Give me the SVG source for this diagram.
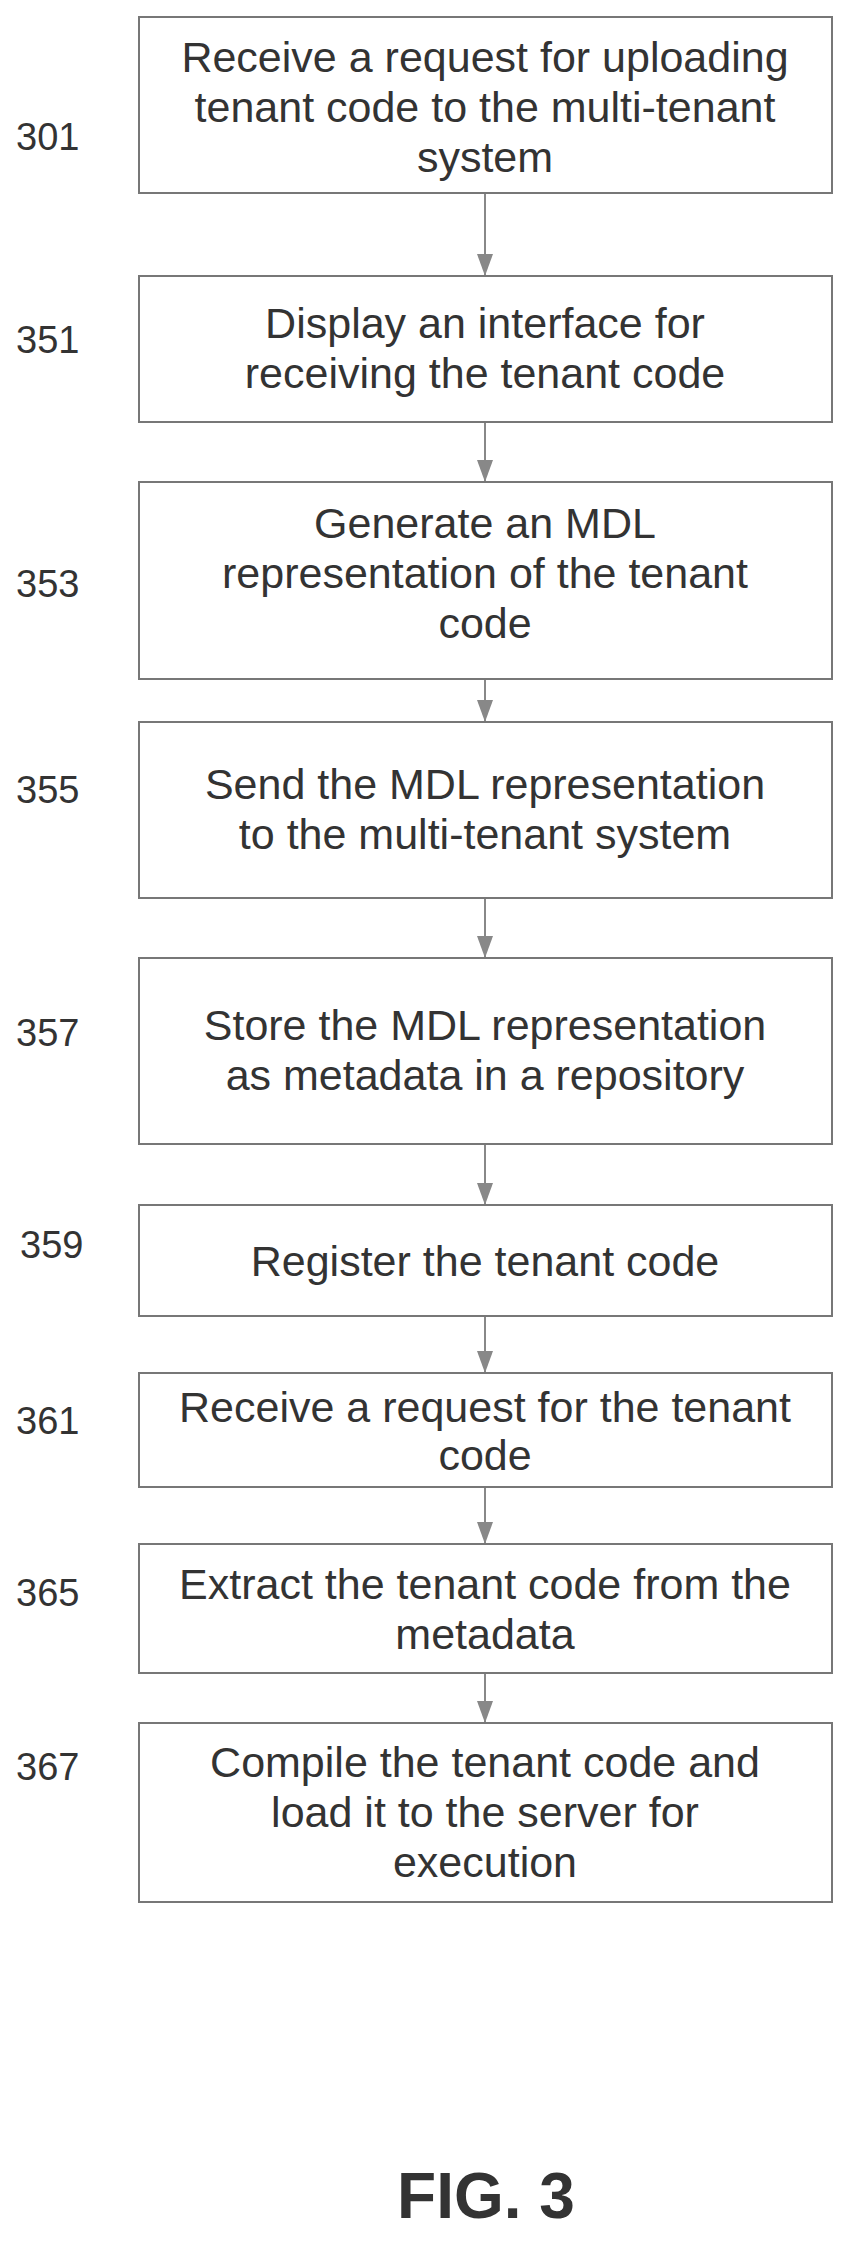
<svg xmlns="http://www.w3.org/2000/svg" width="858" height="2252" viewBox="0 0 858 2252">
<style>
.b{fill:#fff;stroke:#777;stroke-width:2}
.t{font-family:"Liberation Sans",Arial,sans-serif;font-size:43px;fill:#333;text-anchor:middle}
.l{font-family:"Liberation Sans",Arial,sans-serif;font-size:38px;fill:#333}
.c{stroke:#888;stroke-width:2;fill:none;marker-end:url(#a)}
</style>
<defs><marker id="a" markerWidth="22" markerHeight="16" refX="22" refY="8" orient="auto" markerUnits="userSpaceOnUse" viewBox="0 0 22 16"><path d="M0,0 L22,8 L0,16 Z" fill="#888"/></marker></defs>
<rect width="858" height="2252" fill="#fff"/>
<g id="connectors">
<line class="c" x1="485" y1="193" x2="485" y2="276"/>
<line class="c" x1="485" y1="422" x2="485" y2="482"/>
<line class="c" x1="485" y1="679" x2="485" y2="722"/>
<line class="c" x1="485" y1="898" x2="485" y2="958"/>
<line class="c" x1="485" y1="1144" x2="485" y2="1205"/>
<line class="c" x1="485" y1="1316" x2="485" y2="1373"/>
<line class="c" x1="485" y1="1487" x2="485" y2="1544"/>
<line class="c" x1="485" y1="1673" x2="485" y2="1723"/>
</g>
<g id="n301"><rect class="b" x="139" y="17" width="693" height="176"/><text class="l" x="16" y="150">301</text>
<text class="t" x="485" y="72">Receive a request for uploading</text><text class="t" x="485" y="122">tenant code to the multi-tenant</text><text class="t" x="485" y="172">system</text></g>
<g id="n351"><rect class="b" x="139" y="276" width="693" height="146"/><text class="l" x="16" y="353">351</text>
<text class="t" x="485" y="338">Display an interface for</text><text class="t" x="485" y="388">receiving the tenant code</text></g>
<g id="n353"><rect class="b" x="139" y="482" width="693" height="197"/><text class="l" x="16" y="597">353</text>
<text class="t" x="485" y="538">Generate an MDL</text><text class="t" x="485" y="588">representation of the tenant</text><text class="t" x="485" y="638">code</text></g>
<g id="n355"><rect class="b" x="139" y="722" width="693" height="176"/><text class="l" x="16" y="803">355</text>
<text class="t" x="485" y="799">Send the MDL representation</text><text class="t" x="485" y="849">to the multi-tenant system</text></g>
<g id="n357"><rect class="b" x="139" y="958" width="693" height="186"/><text class="l" x="16" y="1046">357</text>
<text class="t" x="485" y="1040">Store the MDL representation</text><text class="t" x="485" y="1090">as metadata in a repository</text></g>
<g id="n359"><rect class="b" x="139" y="1205" width="693" height="111"/><text class="l" x="20" y="1258">359</text>
<text class="t" x="485" y="1276">Register the tenant code</text></g>
<g id="n361"><rect class="b" x="139" y="1373" width="693" height="114"/><text class="l" x="16" y="1434">361</text>
<text class="t" x="485" y="1422">Receive a request for the tenant</text><text class="t" x="485" y="1470">code</text></g>
<g id="n365"><rect class="b" x="139" y="1544" width="693" height="129"/><text class="l" x="16" y="1606">365</text>
<text class="t" x="485" y="1599">Extract the tenant code from the</text><text class="t" x="485" y="1649">metadata</text></g>
<g id="n367"><rect class="b" x="139" y="1723" width="693" height="179"/><text class="l" x="16" y="1780">367</text>
<text class="t" x="485" y="1777">Compile the tenant code and</text><text class="t" x="485" y="1827">load it to the server for</text><text class="t" x="485" y="1877">execution</text></g>
<text x="486" y="2218" style="font-family:'Liberation Sans',Arial,sans-serif;font-size:64px;font-weight:bold;fill:#333" text-anchor="middle">FIG. 3</text>
</svg>
